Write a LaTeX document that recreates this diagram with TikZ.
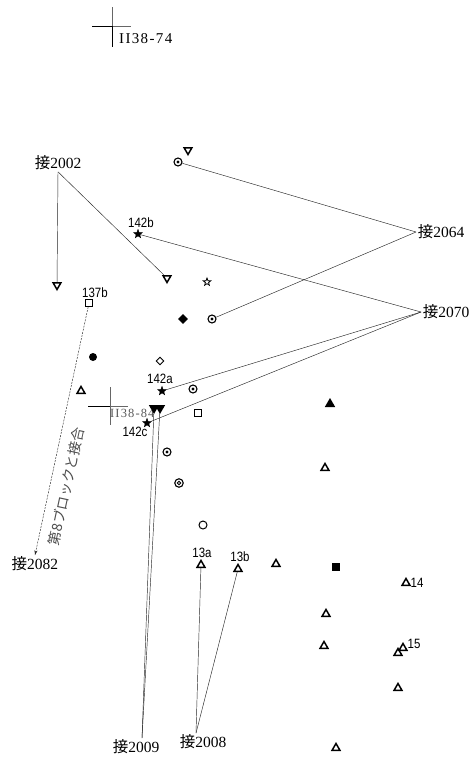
\documentclass[tikz,border=0pt]{standalone}
\usepackage{fontspec}
\setmainfont{Liberation Serif}
\newfontfamily\cjk{Noto Sans CJK JP}
\newfontfamily\numfont[FakeStretch=0.85]{Liberation Sans}
\newfontfamily\gridfont[LetterSpace=9]{Liberation Serif}
\usetikzlibrary{arrows.meta,positioning,shapes.geometric,calc}

\newcommand{\jie}{{\cjk 接}}

\begin{document}
\begin{tikzpicture}[x=1pt, y=-1pt,
    tag/.style={font=\fontsize{15.5}{15.5}\selectfont, inner sep=1.5pt},
    num/.style={font=\numfont\fontsize{13.5}{13.5}\selectfont, inner sep=0pt},
    gridlbl/.style={font=\gridfont\fontsize{15}{15}\selectfont, inner sep=0pt, anchor=west},
    link/.style={line width=0.45pt, black!85},
    tri/.style={regular polygon, regular polygon sides=3, draw, line width=1.5pt,
                inner sep=0pt, minimum size=9pt},
    tridown/.style={tri, shape border rotate=180},
    trifill/.style={tridown, fill},
    starmk/.style={star, star points=5, star point ratio=2.4, fill, draw,
                   line width=0.3pt, inner sep=0pt, minimum size=9.5pt},
    openstar/.style={starmk, fill=white, line width=0.8pt, minimum size=8pt},
    dcirc/.style={circle, draw, line width=1.1pt, inner sep=0pt, minimum size=8pt,
                  path picture={\fill (path picture bounding box.center) circle (1.6pt);}},
    dcirctwo/.style={circle, draw, line width=1.1pt, inner sep=0pt, minimum size=8.5pt,
                  path picture={\draw[line width=0.9pt] (path picture bounding box.center) circle (1.7pt);}},
    sq/.style={rectangle, draw, line width=1.1pt, inner sep=0pt, minimum size=6.5pt},
    dia/.style={diamond, aspect=1, draw, line width=0.9pt, inner sep=0pt, minimum size=9pt}
]
\useasboundingbox (0,0) rectangle (471,758);

% grid crosses
\draw[line width=0.5pt, black!60] (112,7) -- (112,26) (112,26) -- (131,26);
\draw[line width=1pt] (92,26) -- (112,26) (112,26) -- (112,47);
\node[gridlbl] (g74) at (119,39) {II38-74};
\draw[line width=0.5pt, black!60] (110,387) -- (110,425) (110,406) -- (128,406);
\draw[line width=0.9pt] (88,406) -- (110,406);
\node[gridlbl, font=\gridfont\fontsize{12.5}{12.5}\selectfont, text=black!65] (g84) at (110,413) {II38-84};

% join labels
\node[tag] (j2002) at (58,163) {\jie2002};
\node[tag] (j2064) at (441,232) {\jie2064};
\node[tag] (j2070) at (446,312) {\jie2070};
\node[tag] (j2082) at (35,564) {\jie2082};
\node[tag] (j2009) at (136,747) {\jie2009};
\node[tag] (j2008) at (203,742) {\jie2008};
\coordinate (e2009) at ([xshift=6pt]j2009.north);
\coordinate (e2008) at ([xshift=-7pt]j2008.north);

% finds
\node[tridown] (d0) at (188,150) {};
\node[dcirc] (c1) at (178,162) {};
\node[tridown] (d1) at (57,285) {};
\node[tridown] (d2) at (167,278) {};
\node[starmk] (s142b) at (138,234) {};
\node[num, above=1pt of s142b, xshift=3pt] (l142b) {142b};
\node[openstar] (os) at (207,282) {};
\node[dia, fill] (dm) at (183,319) {};
\node[dcirc] (c2) at (212,319) {};
\node[sq] (b137) at (89,303) {};
\node[num, above=1pt of b137, xshift=6pt] (l137b) {137b};
\node[circle, fill, inner sep=0pt, minimum size=8pt] (dot) at (93,357) {};
\node[dia, minimum size=8pt] (od) at (160,361) {};
\node[starmk] (s142a) at (162,391) {};
\node[num, above=2pt of s142a, xshift=-2pt] (l142a) {142a};
\node[dcirc] (c3) at (193,389) {};
\node[trifill] (f1) at (154,408) {};
\node[trifill] (f2) at (160,408) {};
\node[sq] (b2) at (198,413) {};
\node[starmk] (s142c) at (147,423) {};
\node[num, below=2pt of s142c, xshift=-12pt] (l142c) {142c};
\node[dcirc] (c4) at (167,452) {};
\node[dcirctwo] (c5) at (179,483) {};
\node[circle, draw, line width=1pt, inner sep=0pt, minimum size=8pt] (oc) at (203,525) {};
\node[tri, fill] (tf) at (330,404) {};
\node[sq, fill] (bf) at (336,567) {};
\node[tri] (t13a) at (201,565) {};
\node[num, above=1pt of t13a, xshift=1pt] (l13a) {13a};
\node[tri] (t13b) at (238,569) {};
\node[num, above=1pt of t13b, xshift=2pt] (l13b) {13b};
\node[tri] (t14) at (406,583) {};
\node[num, right=1pt of t14] (l14) {14};
\node[tri] (t15a) at (403,648) {};
\node[tri] (t15b) at (398,653) {};
\node[num, right=1pt of t15a, yshift=4pt] (l15) {15};
\foreach \x/\y [count=\i] in {81/391, 325/468, 276/564, 326/614, 324/646, 398/688, 336/748}
  \node[tri] (t\i) at (\x,\y) {};

% connectors
\draw[link] (j2002.south) -- (d1);
\draw[link] (j2002.south) -- (d2);
\draw[link] (c1) -- (j2064.west);
\draw[link] (c2) -- (j2064.west);
\draw[link] (s142b) -- (j2070.west);
\draw[link] (s142a) -- (j2070.west);
\draw[link] (s142c) -- (j2070.west);
\draw[link] (f1) -- (e2009);
\draw[link] (f2) -- (e2009);
\draw[link] (t13a) -- (e2008);
\draw[link] (t13b) -- (e2008);
\draw[link, dash pattern=on 2pt off 1.2pt, -{Stealth[length=5pt, width=3pt]}] (b137) -- (j2082.north)
  node[pos=0.71, sloped, below=6pt, font=\cjk\fontsize{14}{14}\selectfont, text=black!70] (n8) {第8ブロックと接合};

\end{tikzpicture}
\end{document}
